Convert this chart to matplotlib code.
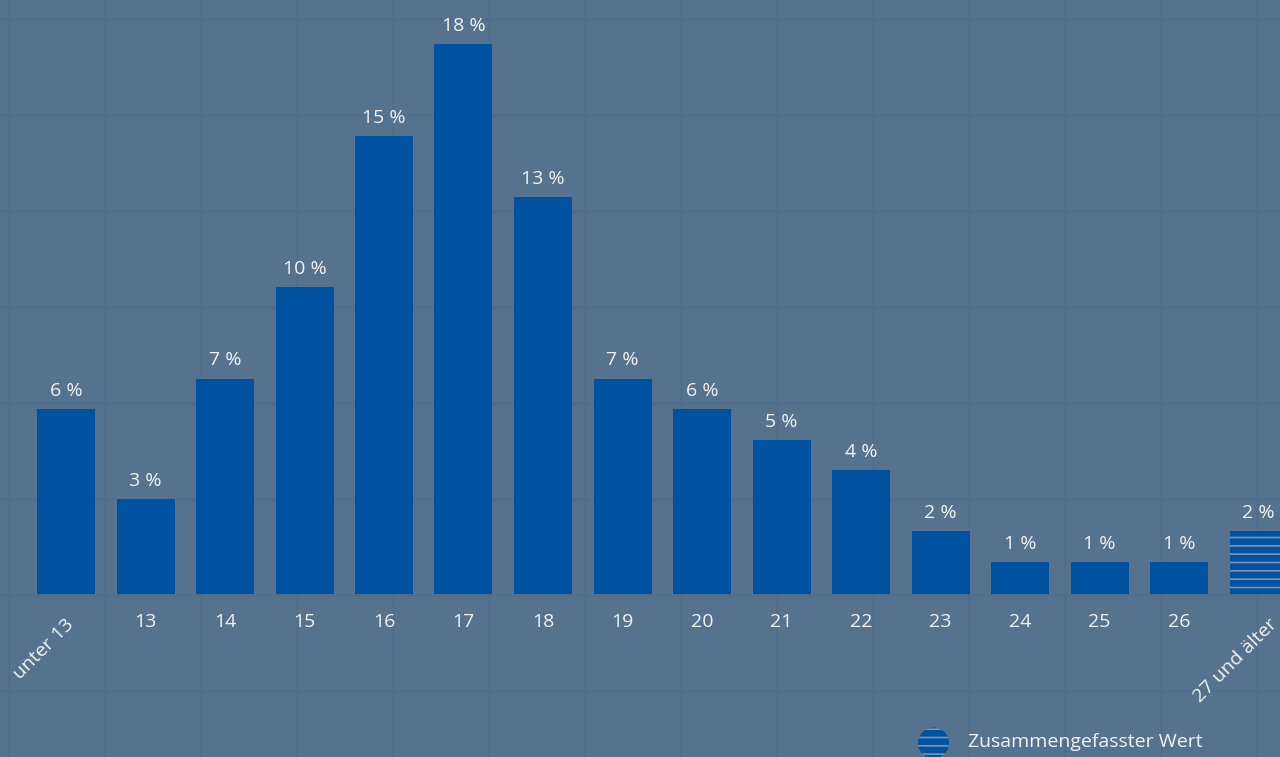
import matplotlib.pyplot as plt
from matplotlib.lines import Line2D
from matplotlib.patches import Ellipse

# Altersverteilung (Anteil in %)
categories = ['unter 13', '13', '14', '15', '16', '17', '18', '19', '20',
              '21', '22', '23', '24', '25', '26', '27 und älter']
values = [6.05, 3.1, 7.05, 10.05, 15.0, 18.0, 13.0, 7.05, 6.05,
          5.05, 4.05, 2.05, 1.05, 1.05, 1.05, 2.05]
labels = ['6 %', '3 %', '7 %', '10 %', '15 %', '18 %', '13 %', '7 %', '6 %',
          '5 %', '4 %', '2 %', '1 %', '1 %', '1 %', '2 %']
legend_text = 'Zusammengefasster Wert'

BG = '#57728f'
GRID = '#4f6a8a'
BAR = '#0250a0'
HATCH = '#7d93ad'
TXT = '#f2f2f2'
W, H = 1280, 757
FS = 14

plt.rcParams['font.family'] = ['Open Sans', 'DejaVu Sans']
plt.rcParams['hatch.linewidth'] = 1.2

fig = plt.figure(figsize=(W / 100, H / 100), dpi=100, facecolor=BG)
ax = fig.add_axes([0, 0, 1, 1])
ax.patch.set_visible(False)

# Hintergrundraster (fest, 96 px)
for gx in range(9, W, 96):
    fig.add_artist(Line2D([gx / W, gx / W], [0, 1], transform=fig.transFigure,
                          color=GRID, lw=1.0, zorder=-1))
for gy in range(19, H, 96):
    fig.add_artist(Line2D([0, 1], [1 - gy / H, 1 - gy / H], transform=fig.transFigure,
                          color=GRID, lw=1.0, zorder=-1))

# Skalierung: 79.5 px pro Kategorie, 30.56 px pro Prozent, Basislinie bei y=594
px_x = 79.5
px_y = 30.56
x0 = 66
base = 594
ax.set_xlim(-x0 / px_x, (W - x0) / px_x)
ax.set_ylim(-(H - base) / px_y, base / px_y)
ax.axis('off')

xs = list(range(len(categories)))
ax.bar(xs[:-1], values[:-1], width=58 / px_x, color=BAR, linewidth=0)
ax.bar(xs[-1], values[-1], width=58 / px_x, color=BAR, edgecolor=HATCH,
       linewidth=0, hatch='--')

for x, v, lab in zip(xs, values, labels):
    ax.annotate(lab, (x, v), xytext=(0, 13), textcoords='offset points',
                ha='center', va='center', color=TXT, fontsize=FS)

ty = -28 / px_y
for x, c in zip(xs, categories):
    if x == 0:
        ax.text(x + 5 / px_x, ty, c, rotation=45, ha='right', va='center',
                rotation_mode='anchor', color=TXT, fontsize=FS)
    elif x == len(categories) - 1:
        ax.text(x + 16 / px_x, ty, c, rotation=45, ha='right', va='center',
                rotation_mode='anchor', color=TXT, fontsize=FS)
    else:
        ax.text(x, ty, c, ha='center', va='center', color=TXT, fontsize=FS)

# Legende
fig.add_artist(Ellipse((933.5 / W, 1 - 743 / H), 31 / W, 31 / H,
                       transform=fig.transFigure, facecolor=BAR,
                       edgecolor=HATCH, linewidth=0, hatch='--'))
fig.text(968 / W, 1 - 742 / H, legend_text, ha='left', va='center',
         color=TXT, fontsize=FS)

fig.savefig('out.png', dpi=100, facecolor=BG)
